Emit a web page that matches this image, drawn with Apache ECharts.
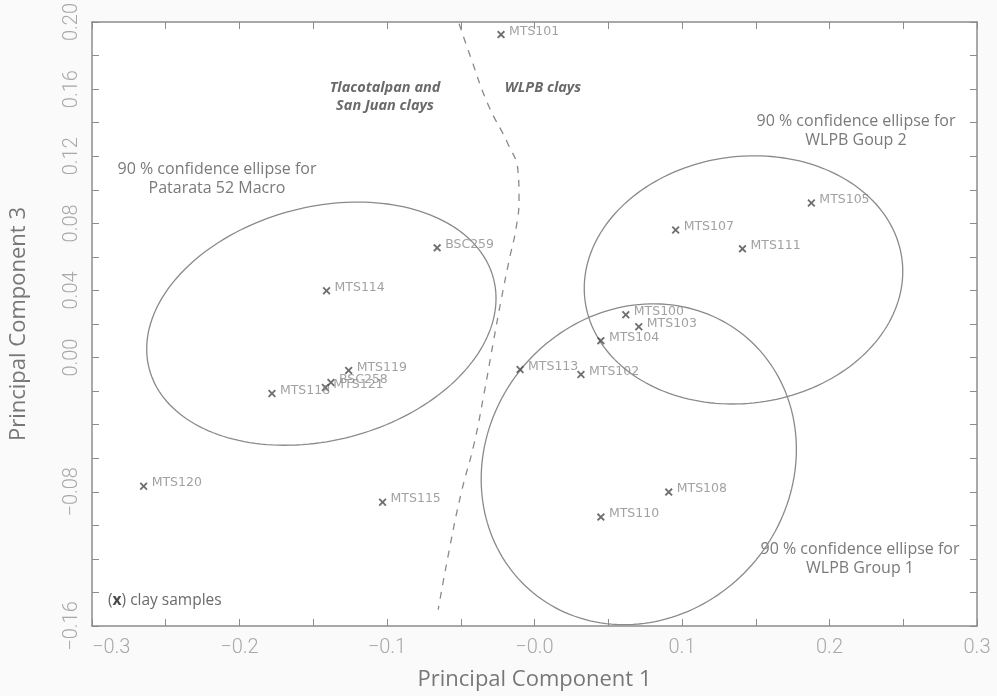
<!DOCTYPE html>
<html>
<head>
<meta charset="utf-8">
<script src="https://cdn.jsdelivr.net/npm/echarts@6/dist/echarts.min.js"></script>
<style>
  html, body { margin: 0; padding: 0; background: #fafafa; }
  #chart { width: 997px; height: 696px; }
</style>
</head>
<body>
<div id="chart"></div>
<script>
// Clay samples: scores on principal components 1 and 3
const sampleNames = ['MTS101', 'BSC259', 'MTS114', 'MTS119', 'BSC258', 'MTS121', 'MTS118', 'MTS120', 'MTS115',
  'MTS113', 'MTS102', 'MTS104', 'MTS100', 'MTS103', 'MTS107', 'MTS111', 'MTS105', 'MTS108', 'MTS110'];
const pc1 = [-0.0227, -0.066, -0.141, -0.126, -0.138, -0.1418, -0.178, -0.265, -0.103,
  -0.0098, 0.0315, 0.045, 0.0619, 0.0707, 0.0957, 0.141, 0.1877, 0.091, 0.045];
const pc3 = [0.1925, 0.0654, 0.0398, -0.0077, -0.0149, -0.0178, -0.0214, -0.0767, -0.0862,
  -0.0071, -0.0101, 0.0101, 0.0255, 0.0184, 0.076, 0.0648, 0.0921, -0.0802, -0.0951];

// 90 % confidence ellipses: centre plus two conjugate semi-diameters (PC1, PC3 units)
const ellipseNames = ['Patarata 52 Macro', 'WLPB Group 2', 'WLPB Group 1'];
const ellipseCx = [-0.1445, 0.1417, 0.0707];
const ellipseCy = [0.0202, 0.0463, -0.0636];
const ellipseUx = [0.1167, 0.1074, 0.0715];
const ellipseUy = [0.0269, 0.0126, 0.0767];
const ellipseVx = [-0.0201, -0.0111, -0.0794];
const ellipseVy = [0.0673, 0.0729, 0.0571];

// Dividing line between Tlacotalpan / San Juan clays and WLPB clays
const boundaryPc1 = [-0.0511, -0.043, -0.0315, -0.0179, -0.0112, -0.0105, -0.0125, -0.0173, -0.0227,
  -0.0281, -0.0342, -0.0409, -0.0497, -0.0578, -0.0653];
const boundaryPc3 = [0.199, 0.1783, 0.1509, 0.1272, 0.1111, 0.0951, 0.0772, 0.0576, 0.0339,
  0.0083, -0.0214, -0.0511, -0.0808, -0.1147, -0.1503];

// Axis tick labels
const xTickValues = [-0.3, -0.2, -0.1, 0, 0.1, 0.2, 0.3];
const xTickLabels = ['\u22120.3', '\u22120.2', '\u22120.1', '\u22120.0', '0.1', '0.2', '0.3'];
const yTickValues = [0.20, 0.16, 0.12, 0.08, 0.04, 0.00, -0.08, -0.16];
const yTickLabels = ['0.20', '0.16', '0.12', '0.08', '0.04', '0.00', '\u22120.08', '\u22120.16'];

const chart = echarts.init(document.getElementById('chart'));

const frameColor = '#8c8c8c';
const tickLabelStyle = { color: '#a8a8a8', fontSize: 20, fontFamily: 'Roboto', fontWeight: 300 };

function lookupLabel(values, labels, v) {
  for (let i = 0; i < values.length; i++) {
    if (Math.abs(values[i] - v) < 1e-6) return labels[i];
  }
  return '';
}

const samples = sampleNames.map((n, i) => ({ name: n, value: [pc1[i], pc3[i]] }));
const boundary = boundaryPc1.map((x, i) => [x, boundaryPc3[i]]);
const ellipses = ellipseNames.map((n, i) => ({ name: n, value: [ellipseCx[i], ellipseCy[i], i] }));

const crossPath = 'path://M0,1.6 L1.6,0 L5,3.4 L8.4,0 L10,1.6 L6.6,5 L10,8.4 L8.4,10 L5,6.6 L1.6,10 L0,8.4 L3.4,5 Z';

const annoText = { fill: '#7a7a7a', fontSize: 16, fontFamily: 'Open Sans', textAlign: 'center', lineHeight: 19 };
const clayText = { fill: '#6a6a6a', fontSize: 14.5, fontFamily: 'Open Sans', fontWeight: 'bold', fontStyle: 'italic', textAlign: 'center', lineHeight: 18 };

const option = {
  backgroundColor: '#fafafa',
  animation: false,
  grid: { left: 90, right: 20, top: 20, bottom: 70, show: true, backgroundColor: '#ffffff', borderWidth: 0 },
  xAxis: [
    {
      type: 'value', min: -0.3, max: 0.3, interval: 0.05, position: 'bottom',
      name: 'Principal Component 1', nameLocation: 'middle', nameGap: 43,
      nameTextStyle: { color: '#777', fontSize: 22, fontFamily: 'Open Sans' },
      axisLine: { show: true, onZero: false, lineStyle: { color: frameColor, width: 1.5 } },
      axisTick: { show: true, inside: true, length: 7, lineStyle: { color: frameColor } },
      splitLine: { show: false },
      axisLabel: Object.assign({
        margin: 12, alignMinLabel: 'left', showMinLabel: true, showMaxLabel: true,
        formatter: v => lookupLabel(xTickValues, xTickLabels, v)
      }, tickLabelStyle)
    },
    {
      type: 'value', min: -0.3, max: 0.3, interval: 0.05, position: 'top',
      axisLine: { show: true, onZero: false, lineStyle: { color: frameColor, width: 1.5 } },
      axisTick: { show: true, inside: true, length: 7, lineStyle: { color: frameColor } },
      splitLine: { show: false }, axisLabel: { show: false }
    }
  ],
  yAxis: [
    {
      type: 'value', min: -0.16, max: 0.20, interval: 0.02, position: 'left',
      name: 'Principal Component 3', nameLocation: 'middle', nameGap: 62,
      nameTextStyle: { color: '#777', fontSize: 22, fontFamily: 'Open Sans' },
      axisLine: { show: true, onZero: false, lineStyle: { color: frameColor, width: 1.5 } },
      axisTick: { show: true, inside: true, length: 7, lineStyle: { color: frameColor } },
      splitLine: { show: false },
      axisLabel: Object.assign({
        rotate: 90, margin: 10, showMinLabel: true, showMaxLabel: true,
        formatter: v => lookupLabel(yTickValues, yTickLabels, v)
      }, tickLabelStyle)
    },
    {
      type: 'value', min: -0.16, max: 0.20, interval: 0.02, position: 'right',
      axisLine: { show: true, onZero: false, lineStyle: { color: frameColor, width: 1.5 } },
      axisTick: { show: true, inside: true, length: 7, lineStyle: { color: frameColor } },
      splitLine: { show: false }, axisLabel: { show: false }
    }
  ],
  series: [
    {
      // confidence ellipses
      type: 'custom',
      xAxisIndex: 0, yAxisIndex: 0,
      data: ellipses,
      z: 2,
      renderItem: function (params, api) {
        const i = api.value(2);
        const pts = [];
        const n = 180;
        for (let k = 0; k <= n; k++) {
          const t = 2 * Math.PI * k / n;
          const x = ellipseCx[i] + ellipseUx[i] * Math.cos(t) + ellipseVx[i] * Math.sin(t);
          const y = ellipseCy[i] + ellipseUy[i] * Math.cos(t) + ellipseVy[i] * Math.sin(t);
          pts.push(api.coord([x, y]));
        }
        return {
          type: 'polyline',
          shape: { points: pts },
          style: { stroke: '#8a8a8a', lineWidth: 1.3, fill: 'none' }
        };
      }
    },
    {
      // clay group boundary
      type: 'line',
      data: boundary,
      smooth: 0.5,
      showSymbol: false,
      z: 2,
      lineStyle: { color: '#8a8a8a', width: 1.3, type: [7, 7] }
    },
    {
      type: 'scatter',
      data: samples,
      symbol: crossPath,
      symbolSize: 8,
      z: 5,
      itemStyle: { color: '#4a4a4a' },
      label: {
        show: true, position: 'right', distance: 4, offset: [0, -3],
        formatter: '{b}', color: '#8a8a8a', fontSize: 12.5, fontFamily: 'DejaVu Sans'
      }
    }
  ],
  graphic: [
    { type: 'text', x: 385, y: 79, style: Object.assign({ text: 'Tlacotalpan and\nSan Juan clays' }, clayText) },
    { type: 'text', x: 543, y: 79, style: Object.assign({ text: 'WLPB clays' }, clayText) },
    { type: 'text', x: 217, y: 160, style: Object.assign({ text: '90 % confidence ellipse for\nPatarata 52 Macro' }, annoText) },
    { type: 'text', x: 856, y: 112, style: Object.assign({ text: '90 % confidence ellipse for\nWLPB Goup 2' }, annoText) },
    { type: 'text', x: 860, y: 540, style: Object.assign({ text: '90 % confidence ellipse for\nWLPB Group 1' }, annoText) },
    {
      type: 'text', x: 108, y: 593,
      style: {
        text: '({b|x}) clay samples',
        fill: '#6a6a6a', fontSize: 15.5, fontFamily: 'Open Sans',
        rich: { b: { fontWeight: 'bold', fontSize: 15.5, fontFamily: 'Open Sans', fill: '#4a4a4a' } }
      }
    }
  ]
};

chart.setOption(option);
</script>
</body>
</html>
